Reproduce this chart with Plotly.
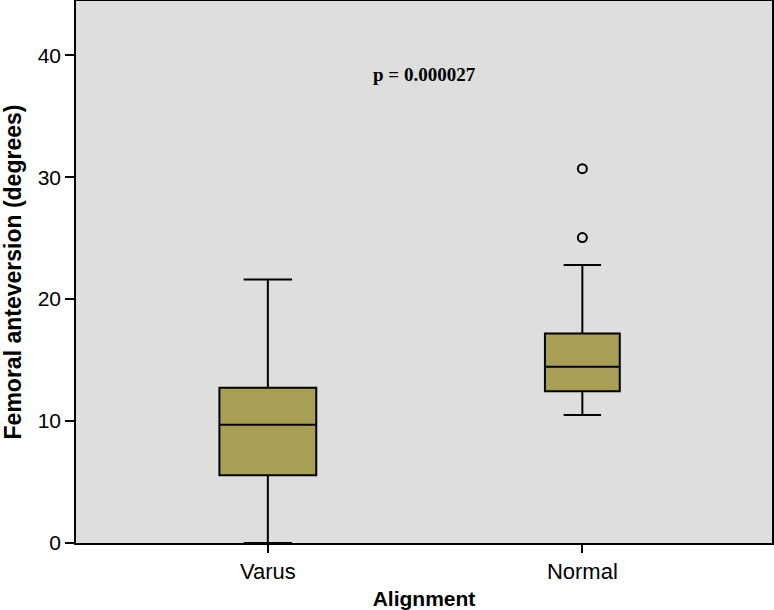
import plotly.graph_objects as go

# reading of the boxes (degrees)
groups = ["Varus", "Normal"]
lower_whisker = [0.0, 10.5]
q1_vals = [5.55, 12.45]
medians = [9.7, 14.45]
q3_vals = [12.73, 17.18]
upper_whisker = [21.6, 22.8]
box_widths = [0.308, 0.238]

outlier_group = ["Normal", "Normal"]
outlier_vals = [30.7, 25.05]

fill = "rgb(168,158,84)"

fig = go.Figure()
for i, g in enumerate(groups):
    fig.add_trace(go.Box(
        x=[g],
        q1=[q1_vals[i]],
        median=[medians[i]],
        q3=[q3_vals[i]],
        lowerfence=[lower_whisker[i]],
        upperfence=[upper_whisker[i]],
        width=box_widths[i],
        whiskerwidth=0.5,
        fillcolor=fill,
        line=dict(color="black", width=2),
        boxpoints=False,
        showlegend=False,
    ))

fig.add_trace(go.Scatter(
    x=outlier_group,
    y=outlier_vals,
    mode="markers",
    marker=dict(symbol="circle-open", size=9, color="black", line=dict(width=2)),
    showlegend=False,
))

fig.add_annotation(
    text="<b>p = 0.000027</b>",
    xref="paper", x=0.5, yref="y", y=38.4,
    showarrow=False,
    font=dict(family="Liberation Serif", size=19, color="black"),
)

fig.update_layout(
    width=774,
    height=610,
    margin=dict(l=76, r=2, t=1, b=67),
    paper_bgcolor="white",
    plot_bgcolor="#DEDEDE",
    boxmode="overlay",
    font=dict(family="Liberation Sans", color="black"),
    xaxis=dict(
        type="category",
        categoryorder="array",
        categoryarray=groups,
        range=[-0.61, 1.603],
        automargin=False,
        showgrid=False,
        showline=True, linecolor="black", linewidth=1.5, mirror=True,
        ticks="outside", ticklen=8, tickwidth=1.5, tickcolor="black",
        tickfont=dict(size=22),
        title=dict(text="<b>Alignment</b>", font=dict(size=21)),
    ),
    yaxis=dict(
        range=[0, 44.45],
        tickvals=[0, 10, 20, 30, 40],
        automargin=False,
        showgrid=False,
        zeroline=False,
        showline=True, linecolor="black", linewidth=1.5, mirror=True,
        ticks="outside", ticklen=9, tickwidth=1.5, tickcolor="black",
        tickfont=dict(size=21),
        title=dict(text="<b>Femoral anteversion (degrees)</b>", font=dict(size=23)),
    ),
)

# page body has a default 8px margin, drop it so the figure sits at the window corner
fig.write_html("out.html", config={"displayModeBar": False},
               post_script="document.body.style.margin = '0px';")
